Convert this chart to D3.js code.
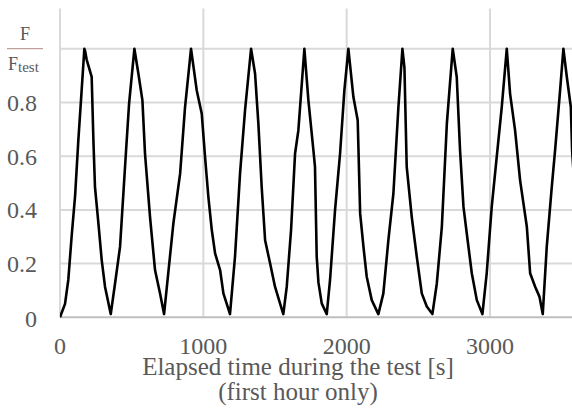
<!DOCTYPE html>
<html>
<head>
<meta charset="utf-8">
<script src="https://cdn.jsdelivr.net/npm/d3@7"></script>
<style>
  body { margin: 0; background: #fff; }
  text { font-family: "Liberation Serif", "Times New Roman", serif; fill: #595959; }
</style>
</head>
<body>
<div id="chart"></div>
<script>
// Data: elapsed time [s] and normalised force F/Ftest
const times = [0, 35, 58, 81, 105, 128, 151, 170, 176, 186, 221, 233, 244, 268, 291, 314, 354,
  384, 419, 461, 482, 519, 547, 575, 593, 628, 663, 698, 726,
  791, 838, 872, 914, 954, 989, 1012, 1035, 1059, 1082, 1117, 1140, 1186,
  1221, 1256, 1291, 1333, 1361, 1384, 1407, 1431, 1466, 1500, 1535, 1558,
  1582, 1612, 1640, 1663, 1705, 1733, 1768, 1779, 1791, 1803, 1826, 1861,
  1884, 1919, 1954, 1984, 2012, 2047, 2077, 2094, 2117, 2140, 2175, 2221,
  2256, 2291, 2326, 2361, 2389, 2403, 2419, 2454, 2489, 2524, 2559, 2598,
  2629, 2664, 2699, 2717, 2740, 2768, 2791, 2815, 2838, 2873, 2908, 2947,
  2977, 3012, 3047, 3082, 3117, 3140, 3175, 3210, 3257, 3280, 3315, 3345, 3368,
  3396, 3431, 3454, 3489, 3512, 3536, 3564, 3573, 3600];
const force = [0, 0.05, 0.14, 0.30, 0.45, 0.66, 0.845, 1.0, 0.99, 0.96, 0.895, 0.66, 0.486, 0.35, 0.213, 0.114, 0.012,
  0.126, 0.263, 0.622, 0.796, 1.0, 0.907, 0.808, 0.61, 0.374, 0.176, 0.089, 0.012,
  0.35, 0.535, 0.78, 1.0, 0.845, 0.758, 0.597, 0.449, 0.325, 0.238, 0.176, 0.089, 0.012,
  0.226, 0.535, 0.771, 1.0, 0.907, 0.721, 0.486, 0.287, 0.2, 0.114, 0.052, 0.012,
  0.114, 0.325, 0.61, 0.696, 1.0, 0.808, 0.622, 0.56, 0.226, 0.13, 0.052, 0.012,
  0.139, 0.4, 0.61, 0.845, 1.0, 0.82, 0.734, 0.387, 0.263, 0.151, 0.064, 0.012,
  0.089, 0.287, 0.461, 0.783, 1.0, 0.93, 0.56, 0.374, 0.226, 0.089, 0.04, 0.012,
  0.126, 0.337, 0.721, 0.845, 1.0, 0.895, 0.622, 0.411, 0.312, 0.164, 0.064, 0.012,
  0.164, 0.411, 0.597, 0.783, 1.0, 0.833, 0.696, 0.51, 0.337, 0.164, 0.114, 0.077, 0.012,
  0.263, 0.486, 0.622, 0.845, 1.0, 0.895, 0.783, 0.62, 0.4];

const xTicks = [0, 1000, 2000, 3000];
const yTicks = [0, 0.2, 0.4, 0.6, 0.8];
const yGrid = [0.2, 0.4, 0.6, 0.8, 1.0];

const width = 572,
      height = 410;

const x = d3.scaleLinear()
    .domain([0, 3600])
    .range([60, 576]);

const y = d3.scaleLinear()
    .domain([0, 1.15])
    .range([317.3, 8.5]);

const svg = d3.select("#chart")
  .append("svg")
    .attr("width", width)
    .attr("height", height);

svg.append("defs").append("clipPath")
    .attr("id", "plot-clip")
  .append("rect")
    .attr("x", 60)
    .attr("y", 0)
    .attr("width", width - 60)
    .attr("height", 330);

// Grid lines
svg.append("g")
  .selectAll("line")
  .data(yGrid)
  .enter().append("line")
    .attr("x1", x(0))
    .attr("x2", width)
    .attr("y1", d => y(d))
    .attr("y2", d => y(d))
    .attr("stroke", "#d9d9d9")
    .attr("stroke-width", 2);

svg.append("g")
  .selectAll("line")
  .data(xTicks)
  .enter().append("line")
    .attr("x1", d => x(d))
    .attr("x2", d => x(d))
    .attr("y1", y(1.15))
    .attr("y2", y(0))
    .attr("stroke", "#d9d9d9")
    .attr("stroke-width", 2);

// Bottom axis line
svg.append("line")
    .attr("x1", x(0))
    .attr("x2", width)
    .attr("y1", y(0))
    .attr("y2", y(0))
    .attr("stroke", "#bfbfbf")
    .attr("stroke-width", 2);

// Force curve
svg.append("path")
    .datum(times.map((t, i) => [t, force[i]]))
    .attr("clip-path", "url(#plot-clip)")
    .attr("fill", "none")
    .attr("stroke", "#000")
    .attr("stroke-width", 2.6)
    .attr("stroke-linejoin", "round")
    .attr("d", d3.line()
        .x(d => x(d[0]))
        .y(d => y(d[1])));

// Y tick labels
svg.append("g")
    .attr("text-anchor", "end")
  .selectAll("text")
  .data(yTicks)
  .enter().append("text")
    .attr("x", 37)
    .attr("y", d => y(d) + (d === 0 ? 10 : 8.5))
    .style("font-size", "24px")
    .text(d => d === 0 ? "0" : d.toFixed(1));

// X tick labels
svg.append("g")
    .attr("text-anchor", "middle")
  .selectAll("text")
  .data(xTicks)
  .enter().append("text")
    .attr("x", d => x(d))
    .attr("y", 354)
    .style("font-size", "24px")
    .text(d => d);

// X axis title
svg.append("text")
    .attr("x", 298)
    .attr("y", 375)
    .attr("text-anchor", "middle")
    .style("font-size", "25px")
    .text("Elapsed time during the test [s]");
svg.append("text")
    .attr("x", 298)
    .attr("y", 400)
    .attr("text-anchor", "middle")
    .style("font-size", "25px")
    .text("(first hour only)");

// Y axis title: F / F_test
svg.append("text")
    .attr("x", 25)
    .attr("y", 40)
    .attr("text-anchor", "middle")
    .style("font-size", "18px")
    .text("F");
svg.append("line")
    .attr("x1", 7)
    .attr("x2", 43)
    .attr("y1", 48.7)
    .attr("y2", 48.7)
    .attr("stroke", "#b08a85")
    .attr("stroke-width", 1);
const fTest = svg.append("text")
    .attr("x", 8)
    .attr("y", 70)
    .style("font-size", "18px");
fTest.append("tspan").text("F");
fTest.append("tspan")
    .attr("dy", 2)
    .style("font-size", "15px")
    .text("test");
</script>
</body>
</html>
